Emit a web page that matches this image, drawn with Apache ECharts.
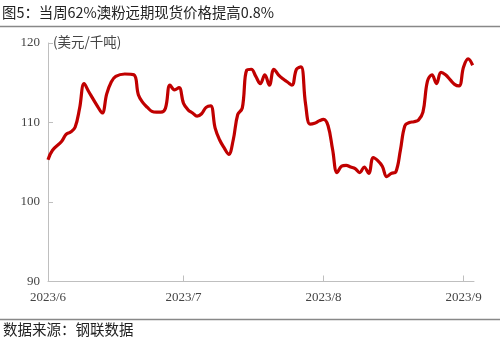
<!DOCTYPE html>
<html><head><meta charset="utf-8">
<script src="https://cdn.jsdelivr.net/npm/echarts@6/dist/echarts.min.js"></script>
<style>html,body{margin:0;padding:0;background:#fff}#c{width:500px;height:346px}</style>
</head><body><div id="c"></div>
<script>
// day offset from 2023-06-01
const days = [0,1,3,4,5,6,7,8,9,11,12,13,14,15,17,19,20,21,22,23,24,25,26,27,28,29,30,31,32,33,34,35,36,37,38,39,40,41,42,43,44,45,46,47,48,49,50,51,52,53,54,55,56,57,58,59,60,61,62,63,64,65,66,67,68,69,70,71,72,73,74,75,76,77,78,79,80,81,82,83,84,85,86,87,88,89,90,91,92,93,94];
const prices = [105.3,106.5,107.6,108.5,108.8,109.4,111.8,114.9,113.9,112.0,111.2,113.6,115.1,115.8,116.1,116.0,113.5,112.5,111.9,111.4,111.3,111.3,111.8,114.7,114.1,114.4,112.4,111.6,111.2,110.8,111.1,111.9,112.1,109.3,107.8,106.8,106.0,107.8,111.0,111.8,116.6,116.7,115.8,114.9,116.0,114.7,116.7,116.0,115.5,115.1,114.7,116.7,117.0,112.4,109.8,109.9,110.2,110.4,109.6,106.6,103.7,104.5,104.6,104.4,104.2,103.7,104.4,103.6,105.6,105.2,104.5,103.2,103.6,103.8,106.5,109.6,110.0,110.1,110.3,111.3,115.2,116.0,114.9,116.3,116.0,115.4,114.8,114.6,117.0,118.0,117.2];
const tickDays = [0,30,61,92];
const tickLabels = ['2023/6','2023/7','2023/8','2023/9'];
const yTicks = [90,100,110,120];
const titleText = '图5：当周62%澳粉远期现货价格提高0.8%';
const unitText = '(美元/千吨)';
const sourceText = '数据来源：钢联数据';

const chart = echarts.init(document.getElementById('c'), null, {renderer:'canvas'});
const serif = '"Liberation Serif","DejaVu Serif",serif';
const cjk = '"Noto Sans CJK SC",sans-serif';
chart.setOption({
  animation:false,
  backgroundColor:'#fff',
  grid:{left:48, right:26, top:43, bottom:64.5},
  xAxis:{
    type:'value', min:0, max:94.3,
    axisLine:{show:true, lineStyle:{color:'#bfbfbf', width:1}},
    axisTick:{show:true, inside:true, length:6, customValues:tickDays, lineStyle:{color:'#bfbfbf'}},
    axisLabel:{customValues:tickDays, margin:10, color:'#444', fontFamily:serif, fontSize:13,
      formatter:function(v){ const i = tickDays.indexOf(Math.round(v)); return i>=0?tickLabels[i]:''; }},
    splitLine:{show:false}
  },
  yAxis:{
    type:'value', min:yTicks[0], max:yTicks[yTicks.length-1], interval:10,
    axisLine:{show:true, lineStyle:{color:'#bfbfbf', width:1}},
    axisTick:{show:true, inside:true, length:5, lineStyle:{color:'#bfbfbf'}},
    axisLabel:{margin:8, color:'#444', fontFamily:serif, fontSize:13},
    splitLine:{show:false}
  },
  series:[{
    type:'line', data:days.map((d,i)=>[d,prices[i]]), smooth:0.4, symbol:'none',
    lineStyle:{color:'#C00000', width:3.2}
  }],
  graphic:[
    {type:'text', left:2, top:5, style:{text:titleText, fill:'#222', font:'14.4px '+cjk}},
    {type:'line', shape:{x1:0,y1:26.5,x2:500,y2:26.5}, style:{stroke:'#888', lineWidth:1.5}},
    {type:'text', left:53, top:35, style:{text:unitText, fill:'#444', font:'13.5px '+cjk}},
    {type:'line', shape:{x1:0,y1:319.5,x2:500,y2:319.5}, style:{stroke:'#888', lineWidth:1.5}},
    {type:'text', left:3, top:322, style:{text:sourceText, fill:'#222', font:'14.5px '+cjk}}
  ]
});
</script></body></html>
